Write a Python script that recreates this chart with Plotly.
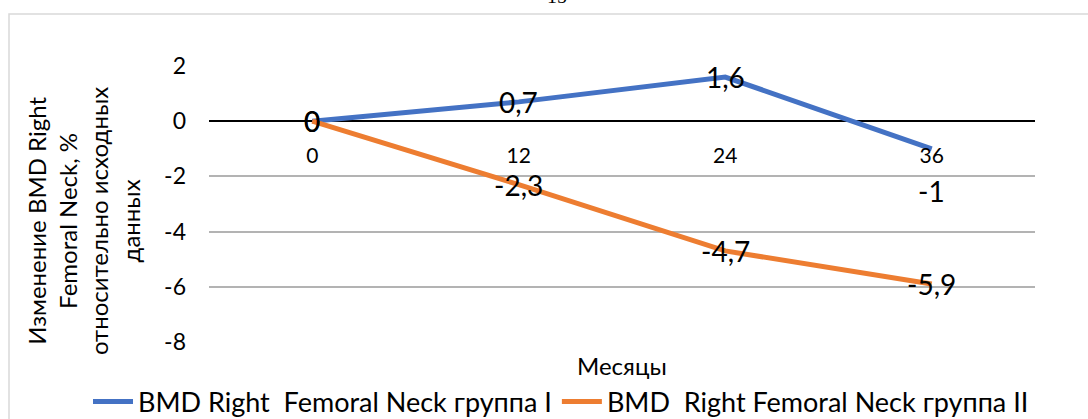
import plotly.graph_objects as go

# Data
months = ["0", "12", "24", "36"]
group_1 = [0, 0.7, 1.6, -1]
group_2 = [0, -2.3, -4.7, -5.9]
series_names = [
    "BMD Right\u00a0 Femoral Neck группа I",
    "BMD\u00a0 Right Femoral Neck группа II",
]
y_ticks = [2, 0, -2, -4, -6, -8]
y_title = "Изменение BMD Right<br>Femoral Neck, %<br>относительно исходных<br>данных"
x_title = "Месяцы"
page_number = "15"

# Style
colors = ["#4472C4", "#ED7D31"]
FONT = "Lato, 'Open Sans', sans-serif"
W, H = 1088, 419
ML, MR, MT, MB = 209, 53, 66, 77
PW, PH = W - ML - MR, H - MT - MB
Y_MIN, Y_MAX = -8, 2


def px_x(p):
    return (p - ML) / PW


def px_y(p):
    return (H - MB - p) / PH


def fmt(v):
    return f"{v:g}".replace(".", ",")


# vertical pixel offset of each data label (label centred on its point by default)
label_shift = [[0, 0, 0, -42], [0, 0, 0, 0]]

fig = go.Figure()
for name, vals, col in zip(series_names, [group_1, group_2], colors):
    fig.add_trace(go.Scatter(
        x=months, y=vals, mode="lines", name=name,
        line=dict(color=col, width=5), hoverinfo="skip",
    ))

annotations = []
for vals, shifts in zip([group_1, group_2], label_shift):
    for i, (v, s) in enumerate(zip(vals, shifts)):
        annotations.append(dict(
            x=i, y=v, xref="x", yref="y", text=fmt(v),
            showarrow=False, xanchor="center", yanchor="middle", yshift=s,
            font=dict(family=FONT, size=28, color="black"),
        ))

# axis titles
annotations.append(dict(
    x=px_x(83), y=px_y(221), xref="paper", yref="paper", text=y_title,
    textangle=-90, showarrow=False, xanchor="center", yanchor="middle",
    font=dict(family=FONT, size=24, color="black"),
))
annotations.append(dict(
    x=px_x(622), y=px_y(365), xref="paper", yref="paper", text=x_title,
    showarrow=False, xanchor="center", yanchor="middle",
    font=dict(family=FONT, size=24, color="black"),
))
# page number
annotations.append(dict(
    x=px_x(557), y=px_y(9), xref="paper", yref="paper", text=page_number,
    showarrow=False, xanchor="center", yanchor="bottom",
    font=dict(family="Liberation Serif, serif", size=20, color="black"),
))

fig.update_layout(
    width=W, height=H, autosize=False,
    margin=dict(l=ML, r=MR, t=MT, b=MB, autoexpand=False),
    paper_bgcolor="white", plot_bgcolor="white",
    font=dict(family=FONT, color="black"),
    annotations=annotations,
    showlegend=True,
    legend=dict(
        orientation="h", x=px_x(88), y=px_y(402), xanchor="left", yanchor="middle",
        font=dict(family=FONT, size=27, color="black"),
        bgcolor="rgba(0,0,0,0)", itemwidth=40,
    ),
    shapes=[dict(
        type="rect", xref="paper", yref="paper",
        x0=px_x(9), x1=px_x(1100), y0=px_y(440), y1=px_y(14),
        line=dict(color="#d9d9d9", width=1.5), layer="below",
    )],
    xaxis=dict(
        type="category", categoryorder="array", categoryarray=months,
        range=[-0.5, len(months) - 0.5],
        anchor="free", position=(0 - Y_MIN) / (Y_MAX - Y_MIN),
        showgrid=False, zeroline=False, showline=False, ticks="",
        tickfont=dict(family=FONT, size=21, color="black"),
        ticklabelstandoff=20,
    ),
    yaxis=dict(
        range=[Y_MIN, Y_MAX], tickvals=y_ticks, ticktext=[fmt(v) for v in y_ticks],
        showgrid=True, gridcolor="#b3b3b3", gridwidth=1.5,
        zeroline=True, zerolinecolor="black", zerolinewidth=1.5,
        showline=False, ticks="",
        tickfont=dict(family=FONT, size=23, color="black"),
        ticklabelstandoff=22,
    ),
)

fig.write_html("out.html")
